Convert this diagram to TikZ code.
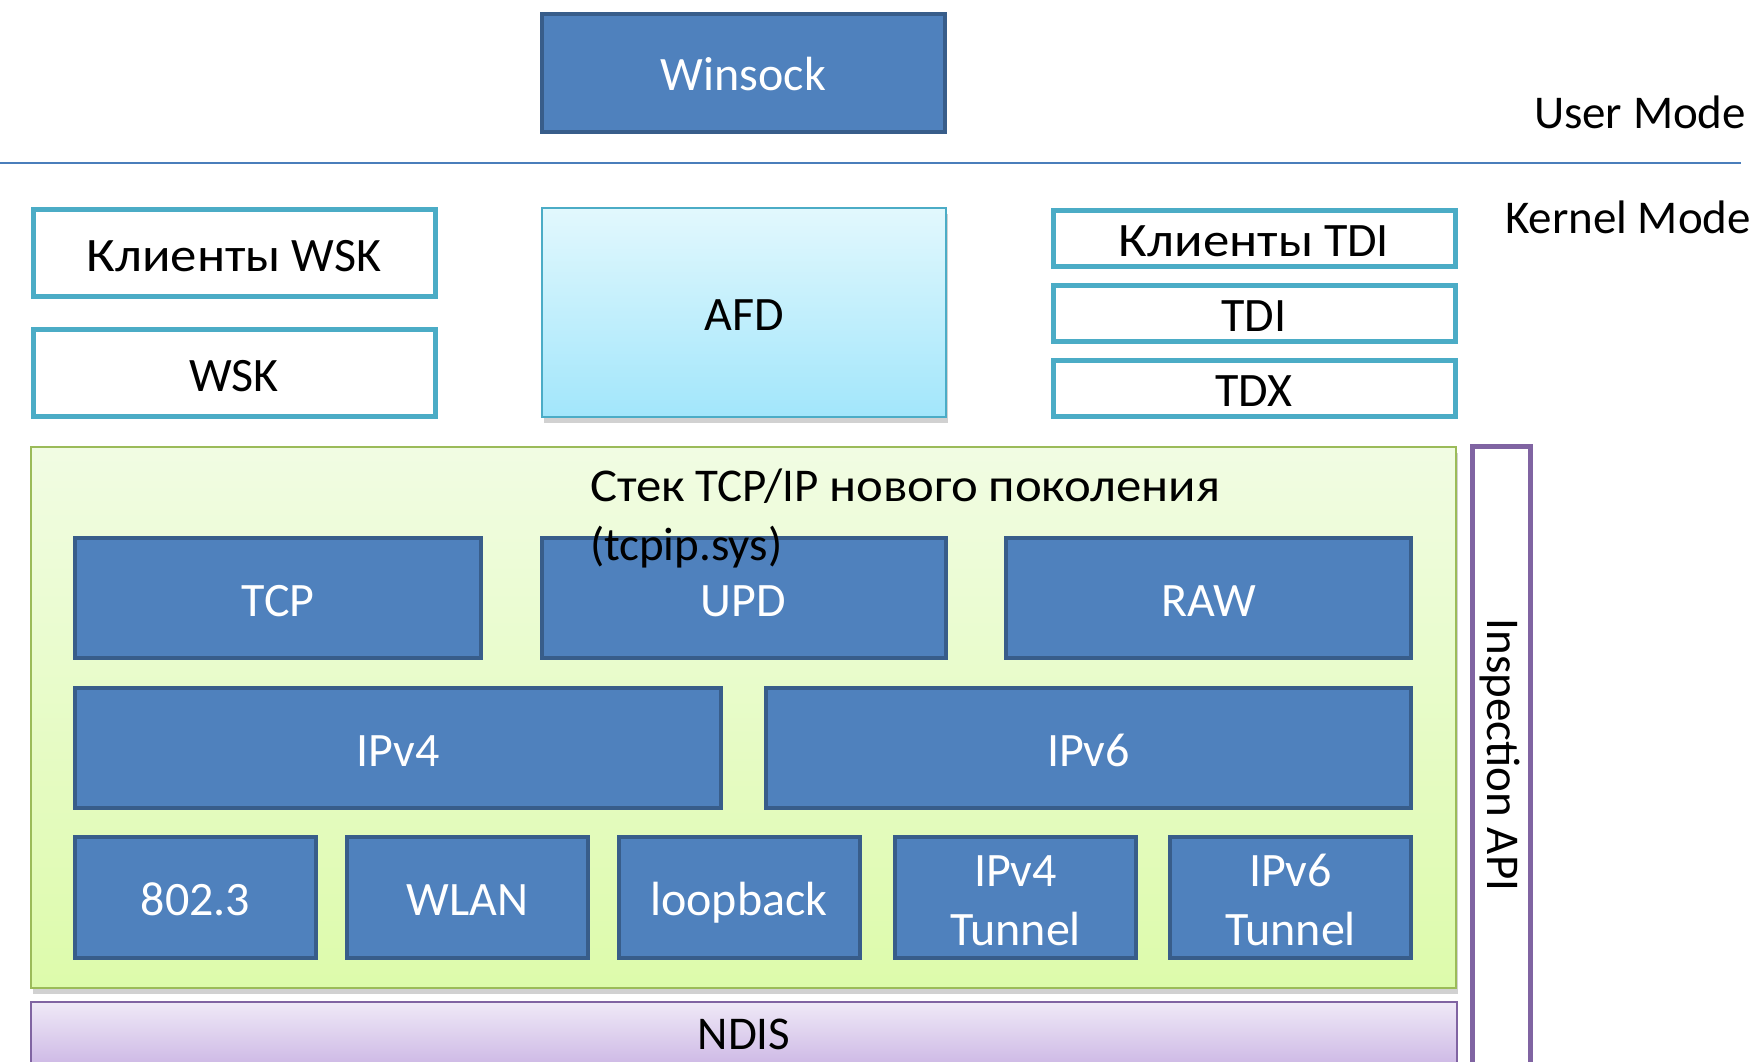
\documentclass[tikz,border=0pt]{standalone}
\usepackage{fontspec}
\usepackage{graphicx}
\setmainfont{Carlito}
\usetikzlibrary{shadows}
\definecolor{boxblue}{HTML}{4F81BD}
\definecolor{boxblueline}{HTML}{385D8A}
\definecolor{aqua}{HTML}{4BACC6}
\definecolor{afdtop}{HTML}{E2F8FD}
\definecolor{afdbot}{HTML}{A2E6FB}
\definecolor{grtop}{HTML}{F1FCE3}
\definecolor{grbot}{HTML}{DDFBAB}
\definecolor{grline}{HTML}{9BBB59}
\definecolor{purp}{HTML}{8064A2}
\definecolor{ndtop}{HTML}{EFE9F7}
\definecolor{ndbot}{HTML}{CDB8E5}
\definecolor{sepline}{HTML}{4A7EBB}
\newcommand{\cyrw}[2][1.1]{\scalebox{#1}[1]{#2}}
\begin{document}
\begin{tikzpicture}[x=1pt,y=-1pt,
  every node/.style={font=\fontsize{47}{59}\selectfont, inner sep=0pt, outer sep=0pt},
  boxtext/.style={font=\fontsize{48}{59}\selectfont, text height=36pt, text depth=0pt},
  twoline/.style={text height=95pt},
  bluebox/.style={rectangle, draw=boxblueline, line width=4pt, fill=boxblue, text=white, align=center, boxtext},
  aquabox/.style={rectangle, draw=aqua, line width=5pt, fill=white, text=black, boxtext},
  softshadow/.style={drop shadow={shadow xshift=2pt, shadow yshift=-6pt, opacity=0.18, fill=black}},
  plainlabel/.style={text=black}]
\clip (0,0) rectangle (1761,1062);
\fill[white] (0,0) rectangle (1761,1062);

% user mode
\node[bluebox, minimum width=403pt, minimum height=118pt] (winsock) at (743.5,73) {Winsock};
\coordinate (sepL) at (0,163);
\coordinate (sepR) at (1741,163);
\draw[sepline, line width=2.5pt] (sepL) -- (sepR);
\node[plainlabel, anchor=east] (user) at (1746,112) {User Mode};
\node[plainlabel, anchor=west] (kernel) at (1505,217) {Kernel Mode};

% kernel upper
\node[aquabox, minimum width=402pt, minimum height=87pt] (wskc) at (234,253) {\cyrw{Клиенты} WSK};
\node[aquabox, minimum width=402pt, minimum height=87pt] (wsk) at (234,373) {WSK};
\node[rectangle, draw=aqua, line width=2pt, top color=afdtop, bottom color=afdbot, softshadow,
      minimum width=404pt, minimum height=209pt, boxtext] (afd) at (744,312.5) {AFD};
\node[aquabox, minimum width=402pt, minimum height=56pt] (tdic) at (1254,238) {\cyrw{Клиенты} TDI};
\node[aquabox, minimum width=402pt, minimum height=56pt] (tdi) at (1254,313) {TDI};
\node[aquabox, minimum width=402pt, minimum height=56pt] (tdx) at (1254,388) {TDX};

% NDIS
\node[rectangle, draw=purp, line width=2.5pt, top color=ndtop, bottom color=ndbot,
      minimum width=1426pt, minimum height=64pt] (ndis) at (744,1034) {NDIS};

% inspection API
\node[rectangle, draw=purp, line width=5pt, fill=white,
      minimum width=58pt, minimum height=624pt] (insp) at (1501,758) {};
\node[plainlabel, rotate=-90] (insptext) at (1500,755) {Inspection API};

% stack
\node[rectangle, draw=grline, line width=2pt, top color=grtop, bottom color=grbot, softshadow,
      minimum width=1425pt, minimum height=541pt] (stack) at (743.5,717.5) {};
\node[bluebox, minimum width=406pt, minimum height=120pt] (tcp) at (278,598) {TCP};
\node[bluebox, minimum width=404pt, minimum height=120pt] (upd) at (743.5,598) {UPD};
\node[bluebox, minimum width=405pt, minimum height=120pt] (raw) at (1208.5,598) {RAW};
\node[bluebox, minimum width=646pt, minimum height=120pt] (ipv4) at (398,748) {IPv4};
\node[bluebox, minimum width=645pt, minimum height=120pt] (ipv6) at (1088.5,748) {IPv6};
\node[bluebox, minimum width=241pt, minimum height=121pt] (eth) at (195.5,897.5) {802.3};
\node[bluebox, minimum width=241pt, minimum height=121pt] (wlan) at (467.5,897.5) {WLAN};
\node[bluebox, minimum width=241pt, minimum height=121pt] (loop) at (739,897.5) {loopback};
\node[bluebox, twoline, minimum width=241pt, minimum height=121pt] (t4) at (1015.5,897.5) {IPv4\\Tunnel};
\node[bluebox, twoline, minimum width=241pt, minimum height=121pt] (t6) at (1290.5,897.5) {IPv6\\Tunnel};
\node[plainlabel, anchor=west, align=left] (title) at (590,518) {\cyrw[1.08]{Стек} TCP/IP \cyrw[1.08]{нового} \cyrw[1.08]{поколения}\\(tcpip.sys)};
\end{tikzpicture}
\end{document}
